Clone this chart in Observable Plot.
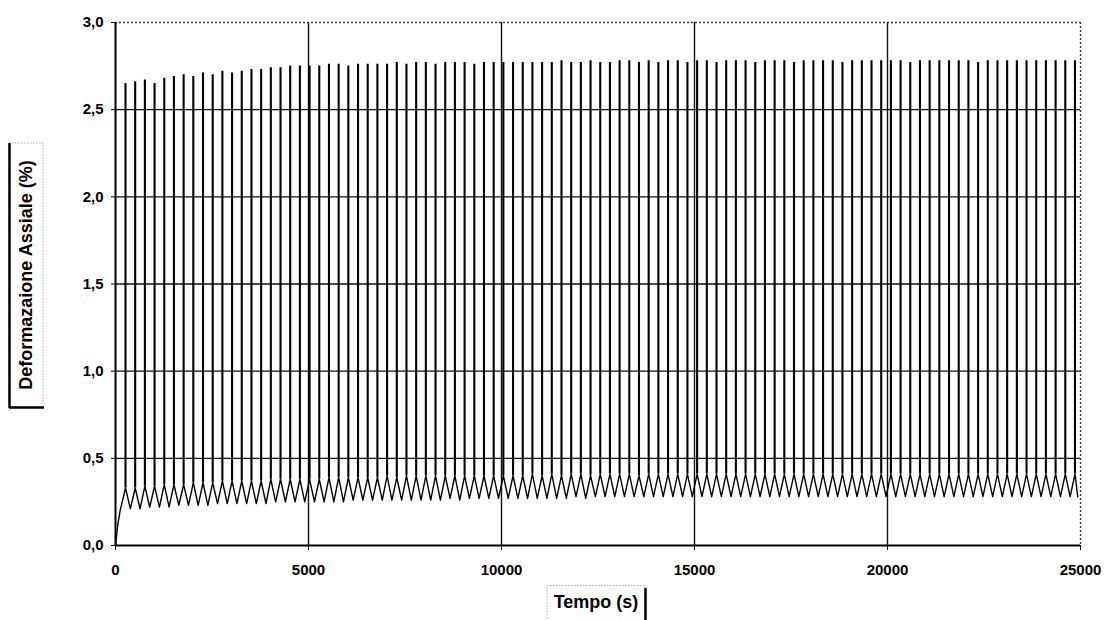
<!DOCTYPE html>
<html>
<head>
<meta charset="utf-8">
<script src="https://cdn.jsdelivr.net/npm/d3@7"></script>
<script src="https://cdn.jsdelivr.net/npm/@observablehq/plot@0.6"></script>
<style>
  html, body { margin: 0; padding: 0; background: #fff; }
  #chart { width: 1105px; height: 620px; position: relative; }
</style>
</head>
<body>
<div id="chart"></div>
<script>
// ---- data ----
const xTicks = [0, 5000, 10000, 15000, 20000, 25000];
const yTicks = [0, 0.5, 1, 1.5, 2, 2.5, 3];
const xLabel = "Tempo (s)";
const yLabel = "Deformazaione Assiale (%)";

// initial ramp (s, %)
const rampTime = [0, 60, 120];
const rampStrain = [0, 0.12, 0.20];

// spike times (s)
const spikeTime = [259, 510, 761, 1012, 1263, 1514, 1765, 2016, 2267, 2518, 2769, 3020, 3271, 3522, 3773, 4024, 4275, 4526, 4777, 5028,
  5279, 5530, 5781, 6032, 6283, 6534, 6785, 7036, 7287, 7538, 7789, 8040, 8291, 8542, 8793, 9044, 9295, 9546, 9797, 10048,
  10299, 10550, 10801, 11052, 11303, 11554, 11805, 12056, 12307, 12558, 12809, 13060, 13311, 13562, 13813, 14064, 14315, 14566, 14817, 15068,
  15319, 15570, 15821, 16072, 16323, 16574, 16825, 17076, 17327, 17578, 17829, 18080, 18331, 18582, 18833, 19084, 19335, 19586, 19837, 20088,
  20339, 20590, 20841, 21092, 21343, 21594, 21845, 22096, 22347, 22598, 22849, 23100, 23351, 23602, 23853, 24104, 24355, 24606, 24857];

// spike peak strain (%)
const spikePeak = [2.65, 2.66, 2.67, 2.65, 2.68, 2.69, 2.70, 2.69, 2.71, 2.70, 2.72, 2.71, 2.72, 2.73, 2.73, 2.74, 2.74, 2.75, 2.75, 2.75,
  2.75, 2.76, 2.76, 2.75, 2.76, 2.76, 2.76, 2.76, 2.77, 2.76, 2.77, 2.77, 2.76, 2.77, 2.77, 2.77, 2.76, 2.77, 2.77, 2.77,
  2.77, 2.77, 2.77, 2.77, 2.77, 2.78, 2.77, 2.77, 2.78, 2.77, 2.77, 2.78, 2.78, 2.77, 2.78, 2.77, 2.78, 2.78, 2.77, 2.78,
  2.78, 2.77, 2.78, 2.78, 2.78, 2.77, 2.78, 2.78, 2.78, 2.77, 2.78, 2.78, 2.78, 2.78, 2.77, 2.78, 2.78, 2.78, 2.78, 2.78,
  2.78, 2.77, 2.78, 2.78, 2.78, 2.78, 2.78, 2.78, 2.77, 2.78, 2.78, 2.78, 2.78, 2.78, 2.78, 2.78, 2.78, 2.78, 2.78];

// sawtooth top strain at each spike (%)
const zigTop = [0.33, 0.33, 0.34, 0.34, 0.35, 0.35, 0.35, 0.36, 0.36, 0.36, 0.37, 0.37, 0.37, 0.37, 0.37, 0.38, 0.38, 0.38, 0.38, 0.38,
  0.38, 0.39, 0.39, 0.39, 0.39, 0.39, 0.39, 0.40, 0.39, 0.40, 0.40, 0.40, 0.40, 0.40, 0.40, 0.40, 0.40, 0.40, 0.40, 0.40,
  0.40, 0.40, 0.41, 0.40, 0.41, 0.40, 0.41, 0.41, 0.40, 0.41, 0.41, 0.41, 0.41, 0.40, 0.41, 0.41, 0.41, 0.41, 0.41, 0.41,
  0.41, 0.41, 0.41, 0.41, 0.41, 0.41, 0.41, 0.41, 0.41, 0.41, 0.41, 0.41, 0.41, 0.41, 0.41, 0.41, 0.41, 0.41, 0.41, 0.41,
  0.41, 0.41, 0.41, 0.41, 0.41, 0.41, 0.41, 0.41, 0.41, 0.41, 0.41, 0.41, 0.41, 0.41, 0.41, 0.41, 0.41, 0.41, 0.41];

// sawtooth trough strain after each spike (%)
const zigLow = [0.21, 0.21, 0.22, 0.22, 0.22, 0.23, 0.23, 0.23, 0.23, 0.24, 0.24, 0.24, 0.24, 0.24, 0.24, 0.25, 0.25, 0.25, 0.25, 0.25,
  0.25, 0.25, 0.25, 0.26, 0.26, 0.26, 0.26, 0.26, 0.26, 0.26, 0.26, 0.26, 0.26, 0.27, 0.26, 0.27, 0.27, 0.27, 0.27, 0.27,
  0.27, 0.27, 0.27, 0.27, 0.27, 0.27, 0.28, 0.27, 0.28, 0.28, 0.28, 0.28, 0.28, 0.28, 0.28, 0.28, 0.28, 0.28, 0.28, 0.28,
  0.28, 0.28, 0.28, 0.28, 0.28, 0.28, 0.28, 0.28, 0.28, 0.28, 0.28, 0.28, 0.28, 0.28, 0.28, 0.28, 0.28, 0.28, 0.28, 0.28,
  0.28, 0.28, 0.28, 0.28, 0.28, 0.28, 0.28, 0.28, 0.28, 0.28, 0.28, 0.28, 0.28, 0.28, 0.28, 0.28, 0.28, 0.28, 0.28];

// ---- build mark data ----
const zig = rampTime.map((t, i) => ({t, v: rampStrain[i]}));
spikeTime.forEach((t, k) => {
  zig.push({t, v: zigTop[k]});
  const next = k + 1 < spikeTime.length ? spikeTime[k + 1] : Math.min(t + 250, 25000);
  zig.push({t: (t + next) / 2, v: zigLow[k]});
});
const spikes = spikeTime.map((t, k) => ({t, lo: zigTop[k], hi: spikePeak[k]}));

const font = "'Liberation Sans', Arial, Helvetica, sans-serif";
const innerGridY = yTicks.filter(d => d > 0 && d < 3);
const innerGridX = xTicks.filter(d => d > 0 && d < 25000);

const chart = Plot.plot({
  width: 1105,
  height: 620,
  marginLeft: 115,
  marginRight: 25,
  marginTop: 22,
  marginBottom: 75,
  style: {fontFamily: font, fontSize: "15px", fontWeight: "bold", color: "#000", background: "#fff"},
  x: {domain: [0, 25000]},
  y: {domain: [0, 3]},
  marks: [
    Plot.ruleY(innerGridY, {stroke: "#111", strokeWidth: 1.4}),
    Plot.ruleX(innerGridX, {stroke: "#111", strokeWidth: 1.4}),
    Plot.ruleY([3], {stroke: "#333", strokeWidth: 1.3, strokeDasharray: "2,2"}),
    Plot.ruleX([25000], {stroke: "#333", strokeWidth: 1.3, strokeDasharray: "2,2"}),
    Plot.line(zig, {x: "t", y: "v", stroke: "#000", strokeWidth: 1.4}),
    Plot.ruleX(spikes, {x: "t", y1: "lo", y2: "hi", stroke: "#000", strokeWidth: 2.1}),
    Plot.ruleX([0], {stroke: "#000", strokeWidth: 2}),
    Plot.ruleY([0], {stroke: "#000", strokeWidth: 2}),
    Plot.axisX({ticks: xTicks, tickFormat: d => String(d), tickSize: 5, tickPadding: 14, label: null, stroke: "#000", fill: "#000"}),
    Plot.axisY({ticks: yTicks, tickFormat: d => d.toFixed(1).replace(".", ","), tickSize: 4, tickPadding: 8, label: null, stroke: "#000", fill: "#000"})
  ]
});
document.getElementById("chart").appendChild(chart);

// ---- boxed axis titles ----
const svg = d3.select(chart);
// y title box
const yb = svg.append("g");
yb.append("rect").attr("x", 9).attr("y", 143).attr("width", 34).attr("height", 264)
  .attr("fill", "none").attr("stroke", "#999").attr("stroke-width", 0.8).attr("stroke-dasharray", "1.5,1.5");
yb.append("line").attr("x1", 9.5).attr("x2", 9.5).attr("y1", 143).attr("y2", 408).attr("stroke", "#000").attr("stroke-width", 2.5);
yb.append("line").attr("x1", 9).attr("x2", 44).attr("y1", 407.5).attr("y2", 407.5).attr("stroke", "#000").attr("stroke-width", 2.5);
yb.append("text").attr("transform", "translate(32,275) rotate(-90)")
  .attr("text-anchor", "middle").attr("font-family", font).attr("font-weight", "bold").attr("font-size", 18).attr("fill", "#000")
  .text(yLabel);
// x title box
const xb = svg.append("g");
xb.append("rect").attr("x", 547).attr("y", 585.5).attr("width", 98).attr("height", 40)
  .attr("fill", "none").attr("stroke", "#999").attr("stroke-width", 0.8).attr("stroke-dasharray", "1.5,1.5");
xb.append("line").attr("x1", 645.5).attr("x2", 645.5).attr("y1", 588).attr("y2", 620).attr("stroke", "#000").attr("stroke-width", 2.5);
xb.append("text").attr("x", 596).attr("y", 608)
  .attr("text-anchor", "middle").attr("font-family", font).attr("font-weight", "bold").attr("font-size", 18).attr("fill", "#000")
  .text(xLabel);
</script>
</body>
</html>
